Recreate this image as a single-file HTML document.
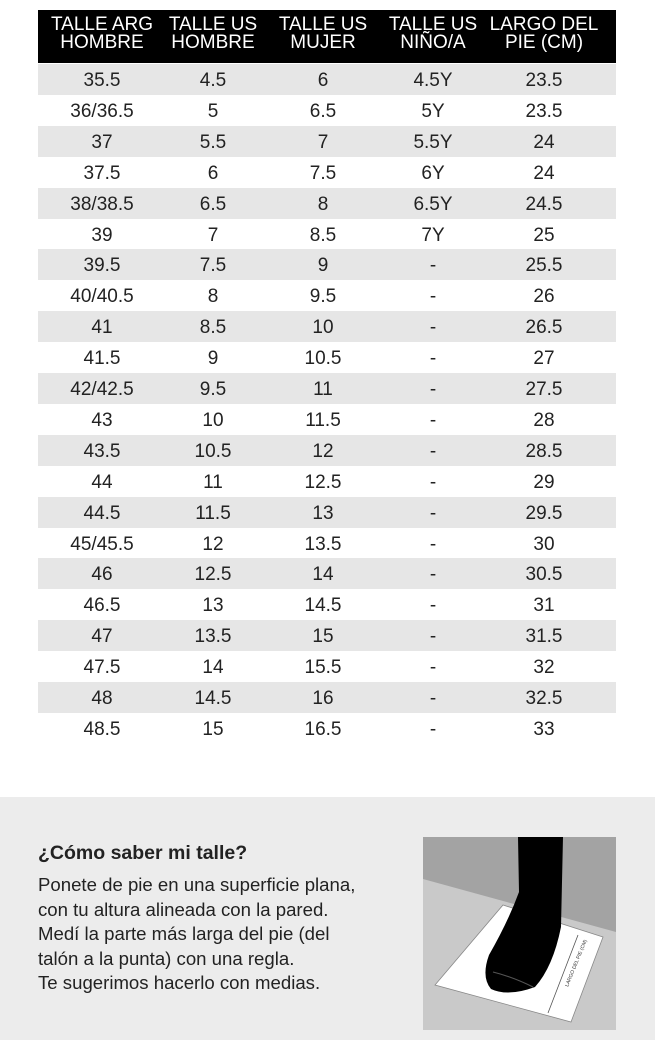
<!DOCTYPE html>
<html><head><meta charset="utf-8"><style>
body{margin:0;width:655px;height:1040px;background:#fff;font-family:"Liberation Sans",Arial,sans-serif;position:relative;overflow:hidden}
.hd{position:absolute;left:38px;top:10px;width:578px;height:53px;background:#000;color:#fff}
.hd div{position:absolute;top:6px;width:110px;text-align:center;font-size:19px;line-height:18px;transform:translateX(-55px)}
.row{position:absolute;left:38px;width:578px;height:31px}
.row.g{background:#e6e6e6}
.row span{position:absolute;top:1px;line-height:31px;width:110px;text-align:center;font-size:19px;color:#222;transform:translateX(-55px)}
.bot{position:absolute;left:0;top:797px;width:655px;height:243px;background:#ececec}
h3{position:absolute;left:38px;top:842px;margin:0;font-size:19.5px;color:#222}
.p{position:absolute;left:38px;top:873px;font-size:18.6px;line-height:24.5px;color:#222}
</style></head><body>
<div class="hd">
<div style="left:64px">TALLE ARG<br>HOMBRE</div>
<div style="left:175px">TALLE US<br>HOMBRE</div>
<div style="left:285px">TALLE US<br>MUJER</div>
<div style="left:395px">TALLE US<br>NIÑO/A</div>
<div style="left:506px">LARGO DEL<br>PIE (CM)</div>
</div>
<div id="rows"></div>
<script>
var d=[["35.5","4.5","6","4.5Y","23.5"],["36/36.5","5","6.5","5Y","23.5"],["37","5.5","7","5.5Y","24"],["37.5","6","7.5","6Y","24"],["38/38.5","6.5","8","6.5Y","24.5"],["39","7","8.5","7Y","25"],["39.5","7.5","9","-","25.5"],["40/40.5","8","9.5","-","26"],["41","8.5","10","-","26.5"],["41.5","9","10.5","-","27"],["42/42.5","9.5","11","-","27.5"],["43","10","11.5","-","28"],["43.5","10.5","12","-","28.5"],["44","11","12.5","-","29"],["44.5","11.5","13","-","29.5"],["45/45.5","12","13.5","-","30"],["46","12.5","14","-","30.5"],["46.5","13","14.5","-","31"],["47","13.5","15","-","31.5"],["47.5","14","15.5","-","32"],["48","14.5","16","-","32.5"],["48.5","15","16.5","-","33"]];
var xs=[64,175,285,395,506],h="";
d.forEach(function(r,i){h+='<div class="row'+(i%2==0?' g':'')+'" style="top:'+(64+i*30.9)+'px">';r.forEach(function(c,j){h+='<span style="left:'+xs[j]+'px">'+c+'</span>'});h+='</div>'});
document.getElementById('rows').innerHTML=h;
</script>
<div class="bot"></div>
<h3>¿Cómo saber mi talle?</h3>
<div class="p">Ponete de pie en una superficie plana,<br>con tu altura alineada con la pared.<br>Medí la parte más larga del pie (del<br>talón a la punta) con una regla.<br>Te sugerimos hacerlo con medias.</div>
<svg style="position:absolute;left:423px;top:837px" width="193" height="193" viewBox="0 0 193 193">
<rect width="193" height="193" fill="#c9c9c9"/>
<polygon points="0,0 193,0 193,95 0,42" fill="#a3a3a3"/>
<polygon points="80,68 180,100 148,185 12,148" fill="#fff" stroke="#888" stroke-width="0.8"/>
<path d="M95,0 L140,0 L138,90 Q130,130 112,150 Q85,160 68,152 Q58,140 66,118 Q85,85 96,55 Z" fill="#000"/>
<path d="M70,135 Q90,140 110,150" stroke="#555" fill="none"/>
<line x1="155" y1="98" x2="125" y2="176" stroke="#555" stroke-width="0.8"/>
<text x="0" y="0" font-size="5" font-family="Liberation Sans" fill="#333" transform="translate(145,150) rotate(-68)">LARGO DEL PIE (CM)</text>
</svg>
</body></html>
